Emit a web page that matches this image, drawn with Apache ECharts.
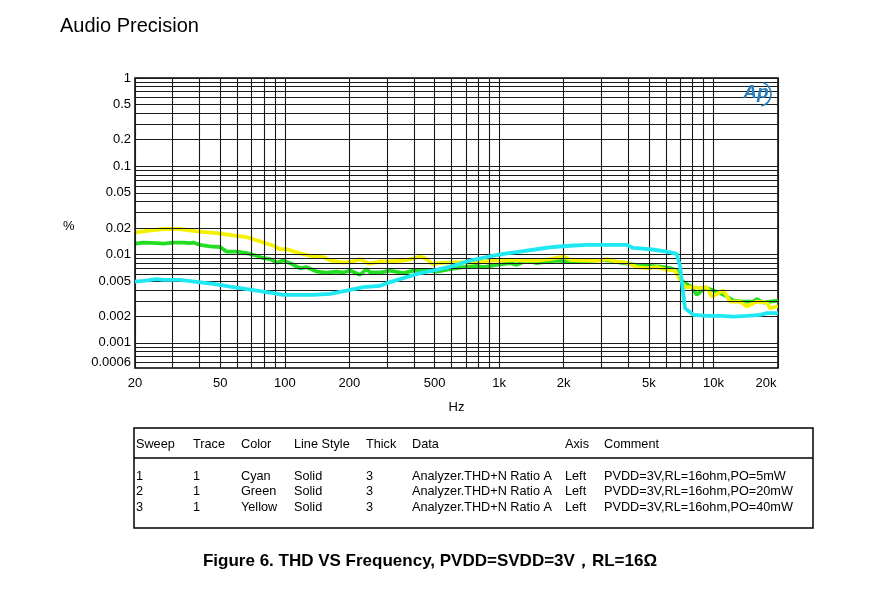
<!DOCTYPE html>
<html>
<head>
<meta charset="utf-8">
<script src="https://cdn.jsdelivr.net/npm/echarts@6/dist/echarts.min.js"></script>
<style>
  html, body { margin: 0; padding: 0; background: #fff; }
  #chart { width: 887px; height: 591px; }
</style>
</head>
<body>
<div id="chart"></div>
<script>
// grid lines and tick labels (Hz / %)
var xGrid = [20, 30, 40, 50, 60, 70, 80, 90, 100, 200, 300, 400, 500, 600, 700, 800, 900,
  1000, 2000, 3000, 4000, 5000, 6000, 7000, 8000, 9000, 10000, 20000]
var xTicks = [20, 50, 100, 200, 500, 1000, 2000, 5000, 10000, 20000]
var xTickText = ['20', '50', '100', '200', '500', '1k', '2k', '5k', '10k', '20k']
var yGrid = [0.0006, 0.0007, 0.0008, 0.0009, 0.001, 0.002, 0.003, 0.004, 0.005, 0.006, 0.007, 0.008, 0.009,
  0.01, 0.02, 0.03, 0.04, 0.05, 0.06, 0.07, 0.08, 0.09, 0.1, 0.2, 0.3, 0.4, 0.5, 0.6, 0.7, 0.8, 0.9, 1]
var yTicks = [1, 0.5, 0.2, 0.1, 0.05, 0.02, 0.01, 0.005, 0.002, 0.001, 0.0006]
var yTickText = ['1', '0.5', '0.2', '0.1', '0.05', '0.02', '0.01', '0.005', '0.002', '0.001', '0.0006']

// sweep 1 - cyan, PO=5mW
var cyanHz = [20, 21.9, 25.2, 27.1, 32.4, 38.8, 46.4, 55.5, 66.4, 79.4, 88.5, 98.4, 113.7, 135.8, 162.5, 194.5, 232.4,
  278, 299, 357, 428, 511, 611, 732, 875, 1047, 1252, 1497, 1790, 2143, 2563, 3064, 3667, 3939, 4228, 5062, 6053,
  6741, 6986, 7190, 7370, 8058, 9300, 10740, 12400, 14300, 16500, 17730, 20000]
var cyanVal = [0.00495, 0.00505, 0.00527, 0.00518, 0.00518, 0.00491, 0.00467, 0.00435, 0.00406, 0.00381, 0.00366, 0.0035,
  0.0035, 0.0035, 0.00359, 0.00392, 0.00428, 0.00443, 0.00475, 0.00541, 0.00617, 0.00673, 0.00746, 0.00857, 0.0094,
  0.0102, 0.0108, 0.0115, 0.0122, 0.0126, 0.0129, 0.0129, 0.0129, 0.0129, 0.0119, 0.0115, 0.0108, 0.0102, 0.00733,
  0.00399, 0.00247, 0.00208, 0.00202, 0.00202, 0.00199, 0.00202, 0.00208, 0.00217, 0.00217]

// sweep 2 - green, PO=20mW
var greenHz = [20, 21.9, 25.2, 27.1, 30.2, 33.6, 36.1, 37.4, 40.2, 44.8, 49.9, 53.5, 59.7, 66.4, 73.9, 79.4, 85.3, 91.6,
  98.4, 105.8, 117.8, 126.6, 140.9, 156.9, 174.7, 187.6, 201.5, 224, 241, 250, 278, 310, 357, 398, 443, 511, 590, 681,
  786, 844, 974, 1124, 1208, 1345, 1497, 1668, 1857, 2143, 2473, 2958, 3298, 3667, 4083, 4546, 5062, 5636, 6275, 6741,
  6986, 7370, 7924, 8360, 8820, 9300, 10000, 10740, 11540, 12400, 13800, 15360, 15920, 17100, 18370, 20000]
var greenVal = [0.0133, 0.0137, 0.0135, 0.0133, 0.0137, 0.0137, 0.0135, 0.0137, 0.0129, 0.0124, 0.0122, 0.0108, 0.0108,
  0.0104, 0.0097, 0.0091, 0.0089, 0.0081, 0.0086, 0.008, 0.007, 0.0072, 0.00643, 0.00627, 0.00643, 0.00627, 0.0066,
  0.0059, 0.00685, 0.00627, 0.00627, 0.0066, 0.00617, 0.0066, 0.0066, 0.00643, 0.00685, 0.0072, 0.00746, 0.0072,
  0.00766, 0.008, 0.00766, 0.00857, 0.008, 0.00835, 0.00857, 0.00835, 0.00835, 0.00873, 0.00857, 0.0081, 0.00787,
  0.00746, 0.00746, 0.00733, 0.00703, 0.0066, 0.00527, 0.00475, 0.00428, 0.0035, 0.00392, 0.00417, 0.00392, 0.00366,
  0.00335, 0.00302, 0.00294, 0.00294, 0.00313, 0.00286, 0.00294, 0.00302]

// sweep 3 - yellow, PO=40mW
var yellowHz = [20, 22.7, 27.1, 32.4, 38.8, 48.1, 59.7, 66.4, 79.4, 88.5, 95, 102, 113.7, 131, 151, 162.5, 187.6, 209,
  224, 241, 250, 278, 299, 357, 398, 428, 459, 493, 511, 570, 635, 732, 844, 907, 1047, 1165, 1297, 1497, 1729, 1995,
  2143, 2473, 2958, 3178, 3539, 3939, 4385, 4883, 5437, 6053, 6620, 6986, 7370, 8058, 8655, 9300, 9820, 10540, 11120,
  11950, 13310, 14300, 15920, 17730, 18370, 20000]
var yellowVal = [0.0178, 0.0186, 0.0195, 0.0195, 0.0183, 0.0175, 0.0163, 0.0158, 0.0137, 0.0126, 0.0115, 0.0115, 0.0106,
  0.0097, 0.0094, 0.0086, 0.0081, 0.0084, 0.0089, 0.0081, 0.0079, 0.0084, 0.00835, 0.00857, 0.00903, 0.0095, 0.0089,
  0.00766, 0.008, 0.0081, 0.0082, 0.0081, 0.00835, 0.00857, 0.00857, 0.00873, 0.00857, 0.00857, 0.0089, 0.0095,
  0.00873, 0.00857, 0.00857, 0.0089, 0.00835, 0.0081, 0.00722, 0.00703, 0.0072, 0.00673, 0.0066, 0.00518, 0.00428,
  0.00428, 0.00417, 0.00428, 0.00335, 0.00366, 0.00392, 0.00294, 0.00294, 0.00258, 0.00294, 0.00286, 0.00247, 0.00262]

// table under the chart
var tableHead = ['Sweep', 'Trace', 'Color', 'Line Style', 'Thick', 'Data', 'Axis', 'Comment']
var tableRows = [
  ['1', '1', 'Cyan', 'Solid', '3', 'Analyzer.THD+N Ratio A', 'Left', 'PVDD=3V,RL=16ohm,PO=5mW'],
  ['2', '1', 'Green', 'Solid', '3', 'Analyzer.THD+N Ratio A', 'Left', 'PVDD=3V,RL=16ohm,PO=20mW'],
  ['3', '1', 'Yellow', 'Solid', '3', 'Analyzer.THD+N Ratio A', 'Left', 'PVDD=3V,RL=16ohm,PO=40mW']
]
var colX = [136, 193, 241, 294, 366, 412, 565, 604]
var rowY = [476, 491, 507]

var font = '"Liberation Sans", Arial, sans-serif'

function pairs(xs, ys) {
  var out = []
  for (var i = 0; i < xs.length; i++) {
    out.push([xs[i], ys[i]])
  }
  return out
}

// grid lines as markLines, labelled ones carry the tick text
function gridLines() {
  var lines = []
  xGrid.forEach(function (v, i) {
    var k = xTicks.indexOf(v)
    var last = i === xGrid.length - 1
    lines.push({
      xAxis: v,
      label: k >= 0 ? { show: true, formatter: xTickText[k], distance: 9, offset: [last ? -12 : 0, 0] } : { show: false }
    })
  })
  yGrid.forEach(function (v) {
    var k = yTicks.indexOf(v)
    lines.push({
      yAxis: v,
      label: k >= 0 ? { show: true, formatter: yTickText[k], distance: 4 } : { show: false }
    })
  })
  return lines
}

function tableGraphics() {
  var g = [{
    type: 'rect',
    shape: { x: 134, y: 428, width: 679, height: 100 },
    style: { fill: null, stroke: '#000', lineWidth: 1.5 }
  }, {
    type: 'line',
    shape: { x1: 134, y1: 458, x2: 813, y2: 458 },
    style: { stroke: '#000', lineWidth: 1.5 }
  }]
  tableHead.forEach(function (t, i) {
    g.push({
      type: 'text', x: colX[i], y: 444,
      style: { text: t, font: '12.7px ' + font, fill: '#000', textVerticalAlign: 'middle' }
    })
  })
  tableRows.forEach(function (row, r) {
    row.forEach(function (t, i) {
      g.push({
        type: 'text', x: colX[i], y: rowY[r],
        style: { text: t, font: '12.7px ' + font, fill: '#000', textVerticalAlign: 'middle' }
      })
    })
  })
  return g
}

var chart = echarts.init(document.getElementById('chart'), null, { renderer: 'canvas' })

var lineStyleOf = function (c) {
  return { color: c, width: 3.8 }
}

var option = {
  backgroundColor: '#fff',
  animation: false,
  textStyle: { fontFamily: font },
  grid: {
    left: 135, top: 78, width: 643, height: 290,
    show: true, borderColor: '#000', borderWidth: 1.5, backgroundColor: 'transparent'
  },
  xAxis: {
    type: 'log', logBase: 10, min: 20, max: 20000,
    name: 'Hz', nameLocation: 'middle', nameGap: 33,
    nameTextStyle: { color: '#000', fontSize: 13, fontFamily: font },
    axisLine: { show: false }, axisTick: { show: false },
    axisLabel: { show: false }, splitLine: { show: false }
  },
  yAxis: {
    type: 'log', logBase: 10, min: 0.00052, max: 1,
    axisLine: { show: false }, axisTick: { show: false },
    axisLabel: { show: false }, splitLine: { show: false }
  },
  graphic: [{
    type: 'text', x: 60, y: 26,
    style: { text: 'Audio Precision', font: '20px ' + font, fill: '#000', textVerticalAlign: 'middle' }
  }, {
    type: 'text', x: 63, y: 226,
    style: { text: '%', font: '13px ' + font, fill: '#000', textVerticalAlign: 'middle' }
  }, {
    type: 'text', x: 756, y: 93, z: 10,
    style: {
      text: 'Ap', font: 'italic bold 19px ' + font, fill: '#2a7fc0',
      textAlign: 'center', textVerticalAlign: 'middle'
    }
  }, {
    type: 'arc', z: 10,
    shape: { cx: 759, cy: 94, r: 12, startAngle: -1.2, endAngle: 1.4 },
    style: { stroke: '#2a7fc0', lineWidth: 1.6, fill: null }
  }, {
    type: 'text', x: 430, y: 561,
    style: {
      text: 'Figure 6. THD VS Frequency, PVDD=SVDD=3V，RL=16Ω',
      font: 'bold 17px ' + font, fill: '#000', textAlign: 'center', textVerticalAlign: 'middle'
    }
  }].concat(tableGraphics()),
  series: [{
    name: 'grid',
    type: 'line',
    data: [],
    z: 1,
    silent: true,
    markLine: {
      silent: true,
      symbol: 'none',
      precision: 6,
      animation: false,
      lineStyle: { color: '#1a1a1a', width: 1.1, type: 'solid' },
      label: {
        position: 'start', color: '#000',
        fontSize: 13, fontFamily: font
      },
      emphasis: { disabled: true },
      data: gridLines()
    }
  }, {
    name: 'PO=20mW', type: 'line', z: 3, symbol: 'none',
    lineStyle: lineStyleOf('#22dd22'), data: pairs(greenHz, greenVal)
  }, {
    name: 'PO=40mW', type: 'line', z: 4, symbol: 'none',
    lineStyle: lineStyleOf('#f5f200'), data: pairs(yellowHz, yellowVal)
  }, {
    name: 'PO=5mW', type: 'line', z: 5, symbol: 'none',
    lineStyle: lineStyleOf('#1ee8f2'), data: pairs(cyanHz, cyanVal)
  }]
}

chart.setOption(option)
</script>
</body>
</html>
